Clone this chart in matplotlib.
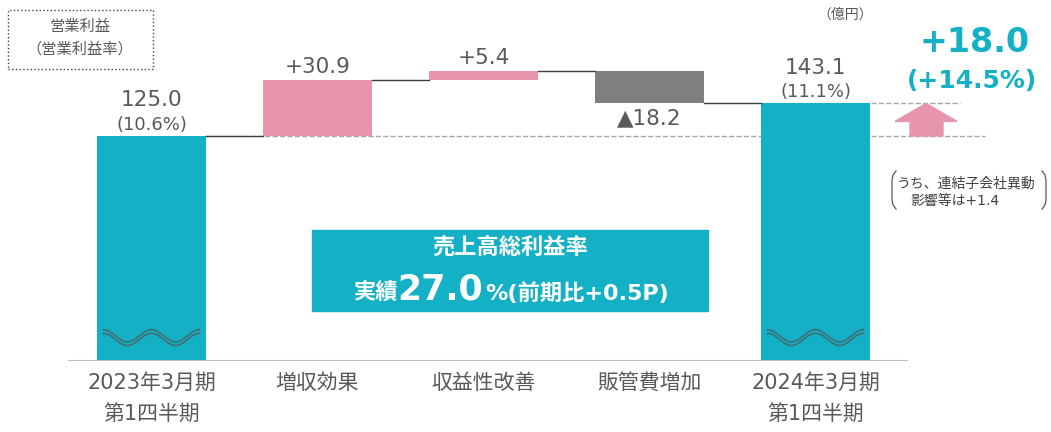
import numpy as np
import matplotlib
matplotlib.use('Agg')
import matplotlib.pyplot as plt
from matplotlib.patches import Rectangle, Polygon
from matplotlib.transforms import blended_transform_factory

plt.rcParams['font.family'] = ['DejaVu Sans', 'Noto Sans CJK JP']

# ---- data ----
categories = ['2023年3月期\n第1四半期', '増収効果', '収益性改善', '販管費増加', '2024年3月期\n第1四半期']
start_value = 125.0
deltas = [30.9, 5.4, -18.2]
end_value = 143.1
margins = ['10.6%', '11.1%']
total_change = '+18.0'
total_change_pct = '+14.5%'
gross_margin = '27.0'
gross_margin_note = '%(前期比+0.5P)'
note_value = '+1.4'

TEAL = '#14B1C6'
PINK = '#E795AB'
GRAY = '#7F7F7F'
TXT = '#595959'
CJK = ['Noto Sans CJK JP', 'DejaVu Sans']

W, H = 1051, 432
fig = plt.figure(figsize=(W / 100, H / 100), dpi=100)


def fx(px):
    return px / W


def fy(py):
    return 1 - py / H


# axes placed so the baseline sits at y=361px
ax = fig.add_axes([fx(68), fy(361), fx(908) - fx(68), 361 / H])
ax.set_xlim(-0.503, 4.557)
ax.set_ylim(0, 361 / 1.8)
ax.axis('off')

bw = 0.66
x = np.arange(len(categories))

# waterfall levels
levels = [start_value]
for d in deltas:
    levels.append(levels[-1] + d)

bt = blended_transform_factory(fig.transFigure, ax.transData)

# reference dashed lines
ax.plot([x[0] + bw / 2, x[4] - bw / 2], [start_value] * 2, ls='--', color='#A6A6A6', lw=1, zorder=1)
ax.plot([fx(871), fx(985)], [start_value] * 2, ls='--', color='#A6A6A6', lw=1, transform=bt, clip_on=False, zorder=1)
ax.plot([fx(871), fx(960)], [end_value] * 2, ls='--', color='#A6A6A6', lw=1, transform=bt, clip_on=False, zorder=1)

# baseline
ax.axhline(0, color='#BFBFBF', lw=1.5, zorder=3)

# start / end bars
ax.bar([x[0], x[4]], [start_value, end_value], width=bw, color=TEAL, zorder=2)

# delta bars
for i, d in enumerate(deltas):
    lo = min(levels[i], levels[i + 1])
    col = PINK if d > 0 else GRAY
    ax.bar(x[i + 1], abs(d), bottom=lo, width=bw, color=col, zorder=2)

# connectors
for i in range(len(levels)):
    ax.plot([x[i] + bw / 2, x[i + 1] - bw / 2], [levels[i]] * 2, color='#404040', lw=1, zorder=3)

# wavy break marks
for xi in [x[0], x[4]]:
    xs = np.linspace(xi - 0.29, xi + 0.29, 200)
    for off in (0, 2.0):
        ys = 12 + off + 3.4 * np.cos((xs - (xi - 0.29)) / 0.58 * 4 * np.pi)
        ax.plot(xs, ys, color='#3F6E76', lw=1.2, zorder=4)

# value labels
def lab(xv, yv, s, dy, size=15.5):
    ax.annotate(s, (xv, yv), xytext=(0, dy), textcoords='offset pixels',
                ha='center', va='center', fontsize=size, color=TXT)

lab(x[0], start_value, f'{start_value:.1f}', 36)
lab(x[0], start_value, f'({margins[0]})', 11, 13)
lab(x[4], end_value, f'{end_value:.1f}', 35)
lab(x[4], end_value, f'({margins[1]})', 11, 13)
for i, d in enumerate(deltas):
    top = max(levels[i], levels[i + 1])
    bot = min(levels[i], levels[i + 1])
    if d > 0:
        lab(x[i + 1], top, f'+{d:.1f}', 13)
    else:
        lab(x[i + 1], bot, f'▲{abs(d):.1f}', -15)

# category labels (two lines placed separately)
for xi, c in zip(x, categories):
    for j, line in enumerate(c.split('\n')):
        ax.annotate(line, (xi, 0), xytext=(0, -(22 + 32 * j)), textcoords='offset pixels',
                    ha='center', va='center', fontsize=15, color=TXT, annotation_clip=False)

# unit
fig.text(fx(845), fy(15), '（億円）', ha='center', va='center', fontsize=10, color=TXT, family=CJK)

# top-left legend box
fig.patches.append(Rectangle((fx(8), fy(69)), fx(153) - fx(8), fy(10) - fy(69),
                             transform=fig.transFigure, fill=False, ls=':', lw=1, ec='#404040'))
fig.text(fx(80), fy(38), '営業利益\n（営業利益率）', ha='center', va='center',
         fontsize=11, color=TXT, linespacing=1.45, family=CJK)

# total change
fig.text(fx(975), fy(43), total_change, ha='center', va='center', fontsize=24,
         fontweight='bold', color=TEAL)
fig.text(fx(972), fy(81), f'({total_change_pct})', ha='center', va='center', fontsize=18,
         fontweight='bold', color=TEAL)

# arrow
arrow = Polygon([(fx(926), end_value), (fx(895), end_value - 10), (fx(910), end_value - 10),
                 (fx(910), start_value), (fx(943), start_value), (fx(943), end_value - 10),
                 (fx(957), end_value - 10)], closed=True, color=PINK, transform=bt,
                clip_on=False, zorder=2)
ax.add_patch(arrow)

# note with brackets
fig.text(fx(897), fy(183), 'うち、連結子会社異動', ha='left', va='center', fontsize=10, color='#404040')
fig.text(fx(910), fy(201), f'影響等は{note_value}', ha='left', va='center', fontsize=10, color='#404040')
for side in (-1, 1):
    x0 = 892 if side < 0 else 1046
    pts = [(x0 - side * 4, 171), (x0 - side * 1, 175), (x0, 180), (x0, 200),
           (x0 - side * 1, 205), (x0 - side * 4, 209)]
    fig.add_artist(plt.Line2D([fx(p[0]) for p in pts], [fy(p[1]) for p in pts],
                              transform=fig.transFigure, color='#595959', lw=0.9))

# gross margin box
fig.patches.append(Rectangle((fx(312), fy(311)), fx(708) - fx(312), fy(230) - fy(311),
                             transform=fig.transFigure, color=TEAL, zorder=5))
fig.text(fx(510), fy(248), '売上高総利益率', ha='center', va='center', fontsize=16,
         fontweight='bold', color='white', zorder=6, family=CJK)
fig.text(fx(398), fy(300), '実績', ha='right', va='baseline', fontsize=16,
         fontweight='bold', color='white', zorder=6, family=CJK)
fig.text(fx(440), fy(300), gross_margin, ha='center', va='baseline', fontsize=25,
         fontweight='bold', color='white', zorder=6)
fig.text(fx(485), fy(300), gross_margin_note, ha='left', va='baseline', fontsize=16,
         fontweight='bold', color='white', zorder=6)

fig.savefig('out.png', dpi=100)
